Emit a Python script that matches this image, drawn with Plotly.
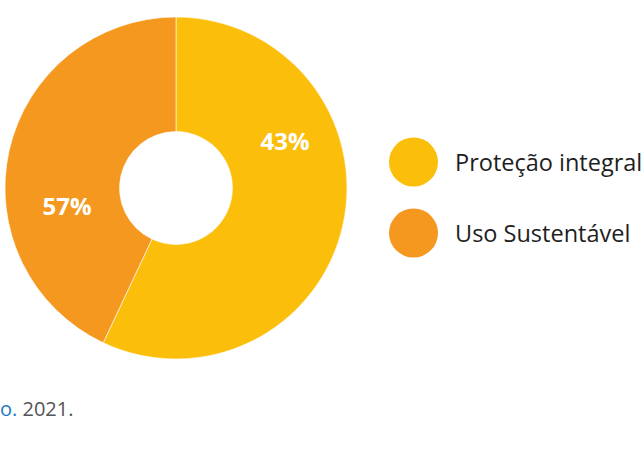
import plotly.graph_objects as go

categories = ["Proteção integral", "Uso Sustentável"]
slice_values = [57, 43]          # angular share drawn in the picture
label_values = [43, 57]          # percentages printed on the slices
colors = ["#FBBE0B", "#F5981F"]
source_prefix = "o."
source_year = "2021."

W, H = 643, 460
dom_x = [5 / W, 347 / W]
dom_y = [1 - 359 / H, 1 - 17 / H]
lab_dom_y = [1 - 344 / H, 1 - 2 / H]

fig = go.Figure()
fig.add_trace(go.Pie(
    labels=categories, values=slice_values, sort=False, direction="clockwise",
    rotation=0, hole=0.33, domain=dict(x=dom_x, y=dom_y),
    marker=dict(colors=colors, line=dict(color="rgba(255,255,255,0.6)", width=1)),
    textinfo="none", hoverinfo="skip", showlegend=False,
))
fig.add_trace(go.Pie(
    labels=[c + " " for c in categories], values=label_values, sort=False,
    direction="clockwise", rotation=-4, hole=0.33, domain=dict(x=dom_x, y=lab_dom_y),
    marker=dict(colors=["rgba(0,0,0,0)", "rgba(0,0,0,0)"], line=dict(width=0)),
    texttemplate="%{percent:.0%}", textposition="inside", insidetextorientation="horizontal",
    textfont=dict(family="Open Sans", size=24, color="white", weight="bold"),
    hoverinfo="skip", showlegend=False,
))

# custom legend with large circles
legend_y = [162, 233]
for cat, col, yy in zip(categories, colors, legend_y):
    fig.add_shape(type="circle", xref="paper", yref="paper",
                  x0=389 / W, x1=438 / W, y0=1 - (yy + 24.5) / H, y1=1 - (yy - 24.5) / H,
                  fillcolor=col, line=dict(width=0))
    fig.add_annotation(text=cat, xref="paper", yref="paper", x=453 / W, y=1 - yy / H,
                       xanchor="left", yanchor="middle", showarrow=False,
                       font=dict(family="Open Sans", size=23.5, color="#1E1E1E"))

fig.add_annotation(
    text=f"<span style='color:#1D7CC3'>{source_prefix}</span> {source_year}",
    xref="paper", yref="paper", x=-2 / W, y=1 - 408 / H, xanchor="left", yanchor="middle",
    showarrow=False, font=dict(family="Open Sans", size=20, color="#555555"))

fig.update_layout(width=W, height=H, margin=dict(l=0, r=0, t=0, b=0),
                  paper_bgcolor="white", plot_bgcolor="white",
                  font=dict(family="Open Sans"), showlegend=False)
fig.write_html("out.html")
